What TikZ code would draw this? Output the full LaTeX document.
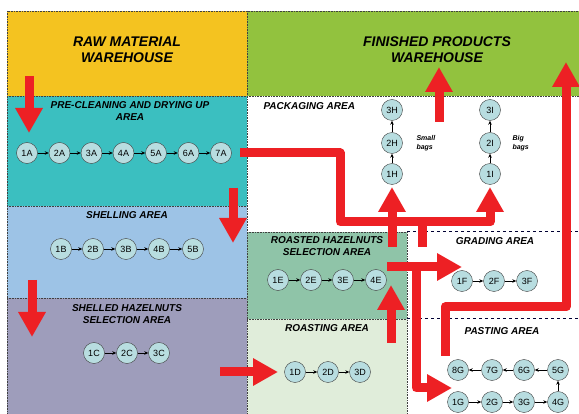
\documentclass[tikz,border=0pt]{standalone}
\usepackage{fontspec}
\setmainfont{Liberation Sans}
\usetikzlibrary{arrows.meta}
\definecolor{rawyellow}{HTML}{F4C320}
\definecolor{fingreen}{HTML}{92C23E}
\definecolor{preteal}{HTML}{3BBFC0}
\definecolor{shellblue}{HTML}{9DC3E6}
\definecolor{selpurple}{HTML}{9E9DBB}
\definecolor{roastsel}{HTML}{8FC4A8}
\definecolor{roastarea}{HTML}{E0EDDA}
\definecolor{arrowred}{HTML}{ED2024}
\definecolor{nodefill}{HTML}{B8DDE0}
\begin{document}
\begin{tikzpicture}[x=1pt,y=-1pt,
  areaborder/.style={draw=black!75, densely dotted, line width=0.6pt},
  navyline/.style={draw=black!80!blue, dashed, line width=1pt},
  proc/.style={circle, draw=black!75, fill=nodefill, minimum size=21pt, inner sep=0pt, font=\fontsize{9}{9}\selectfont},
  flow/.style={-{Stealth[length=4pt,width=3.5pt]}, line width=0.6pt, black},
  redflow/.style={draw=arrowred, line width=9pt, -{Triangle[length=25pt,width=26pt]}},
  redline/.style={draw=arrowred, line width=9pt, line join=round},
  ttl/.style={font=\bfseries\itshape\fontsize{14}{16}\selectfont, align=center},
  lbl/.style={font=\bfseries\itshape\fontsize{10}{12}\selectfont, align=center},
  bags/.style={font=\bfseries\itshape\fontsize{7}{9}\selectfont, align=left, anchor=west}]
\useasboundingbox (0,0) rectangle (579,414);
% areas
\fill[rawyellow] (7,11) rectangle (247,96);
\fill[fingreen] (247,11) rectangle (579,96);
\fill[preteal] (7,96) rectangle (247,206);
\fill[shellblue] (7,206) rectangle (247,298);
\fill[selpurple] (7,298) rectangle (247,414);
\fill[white] (247,96) rectangle (579,232);
\fill[roastsel] (247,232) rectangle (407,319);
\fill[roastarea] (247,319) rectangle (407,414);
\draw[areaborder] (7,11) rectangle (579,414);
\draw[areaborder] (247,11) -- (247,414);
\draw[areaborder] (7,96) -- (579,96);
\draw[areaborder] (7,206) -- (247,206);
\draw[areaborder] (7,298) -- (247,298);
\draw[areaborder] (247,232) -- (407,232);
\draw[areaborder] (247,319) -- (407,319);
\draw[areaborder] (407,232) -- (407,414);
\draw[navyline] (407,232) -- (579,232);
\draw[navyline] (407,319) -- (579,319);
% titles
\node[ttl] (rawt) at (127,50) {RAW MATERIAL\\WAREHOUSE};
\node[ttl] (fint) at (437,50) {FINISHED PRODUCTS\\WAREHOUSE};
\node[lbl] (pret) at (130,111) {PRE-CLEANING AND DRYING UP\\AREA};
\node[lbl, anchor=west] (packt) at (260,106) {PACKAGING AREA};
\node[lbl] (shellt) at (127,215) {SHELLING AREA};
\node[lbl] (selt) at (127,314) {SHELLED HAZELNUTS\\SELECTION AREA};
\node[lbl] (rselt) at (327,246) {ROASTED HAZELNUTS\\SELECTION AREA};
\node[lbl] (roastt) at (327,328) {ROASTING AREA};
\node[lbl] (gradt) at (495,241) {GRADING AREA};
\node[lbl] (pastt) at (502,331) {PASTING AREA};
\node[bags] (smallb) at (413,143) {Small\\bags};
\node[bags] (bigb) at (509,143) {Big\\bags};
% process nodes
\foreach \i/\x in {1/27,2/59.5,3/91.5,4/123.5,5/156,6/188.5,7/221}
  \node[proc] (a\i) at (\x,153) {\i A};
\foreach \i/\x in {1/61,2/93,3/126,4/159,5/193}
  \node[proc] (b\i) at (\x,249) {\i B};
\foreach \i/\x in {1/94,2/127,3/159}
  \node[proc] (c\i) at (\x,353) {\i C};
\foreach \i/\x in {1/295,2/328,3/360}
  \node[proc] (d\i) at (\x,372) {\i D};
\foreach \i/\x in {1/278,2/311,3/343,4/376}
  \node[proc] (e\i) at (\x,280) {\i E};
\foreach \i/\x in {1/462,2/494,3/527}
  \node[proc] (f\i) at (\x,281) {\i F};
\foreach \i/\x in {1/458,2/492,3/524,4/558}
  \node[proc] (g\i) at (\x,402) {\i G};
\foreach \i/\x in {8/458,7/492,6/524,5/558}
  \node[proc] (g\i) at (\x,370) {\i G};
\foreach \i/\y in {1/174,2/143,3/110}
  \node[proc] (h\i) at (392,\y) {\i H};
\foreach \i/\y in {1/174,2/143,3/110}
  \node[proc] (i\i) at (490,\y) {\i I};
% process flows
\foreach \p/\q in {a1/a2,a2/a3,a3/a4,a4/a5,a5/a6,a6/a7,b1/b2,b2/b3,b3/b4,b4/b5,
  c1/c2,c2/c3,d1/d2,d2/d3,e1/e2,e2/e3,e3/e4,f1/f2,f2/f3,
  g1/g2,g2/g3,g3/g4,g4/g5,g5/g6,g6/g7,g7/g8,h1/h2,h2/h3,i1/i2,i2/i3}
  \draw[flow] (\p) -- (\q);
% red material flow arrows
\coordinate (r1s) at (29,76);   \coordinate (r1e) at (29,133);
\coordinate (r2s) at (233,188); \coordinate (r2e) at (233,243);
\coordinate (r3s) at (32,280);  \coordinate (r3e) at (32,337);
\coordinate (r4s) at (220,372); \coordinate (r4e) at (278,372);
\coordinate (r5s) at (391,343); \coordinate (r5e) at (391,285);
\coordinate (r6s) at (240,153); \coordinate (r6e) at (490,187);
\coordinate (r7s) at (392,247); \coordinate (r7e) at (392,187);
\coordinate (r8s) at (422,247); \coordinate (r8e) at (422,222);
\coordinate (r9s) at (387,267); \coordinate (r9e) at (462,267);
\coordinate (r10s) at (416,263); \coordinate (r10e) at (452,388);
\coordinate (r11s) at (445,356); \coordinate (r11e) at (566,62);
\coordinate (r12s) at (439,122); \coordinate (r12e) at (439,67);
\draw[redflow] (r1s) -- (r1e);
\draw[redflow] (r2s) -- (r2e);
\draw[redflow] (r3s) -- (r3e);
\draw[redflow] (r4s) -- (r4e);
\draw[redflow] (r5s) -- (r5e);
\draw[redline] (r8s) -- (r8e);
\draw[redflow, line join=round] (r6s) -- (340,153) -- (340,222) -- (490,222) -- (r6e);
\draw[redflow] (r7s) -- (r7e);
\draw[redflow] (r9s) -- (r9e);
\draw[redflow, line join=round] (r10s) -- (416,388) -- (r10e);
\draw[redflow, line join=round] (r11s) -- (445,307) -- (566,307) -- (r11e);
\draw[redflow] (r12s) -- (r12e);
\end{tikzpicture}
\end{document}
